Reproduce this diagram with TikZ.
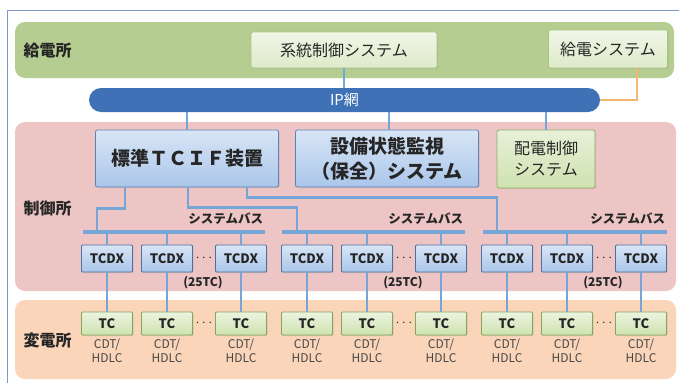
\documentclass[tikz,border=0pt]{standalone}
\usepackage{fontspec}
\setmainfont{Noto Sans CJK JP}
\usetikzlibrary{positioning,shadows}

\definecolor{bandgreen}{RGB}{182,205,146}
\definecolor{bandpink}{RGB}{238,197,197}
\definecolor{bandorange}{RGB}{250,213,186}
\definecolor{boxgreen}{RGB}{222,234,202}
\definecolor{edgegreen}{RGB}{168,198,128}
\definecolor{tcgreen}{RGB}{206,226,176}
\definecolor{tcedge}{RGB}{128,168,88}
\definecolor{ipblue}{RGB}{63,113,182}
\definecolor{boxblueA}{RGB}{216,229,246}
\definecolor{boxblueB}{RGB}{170,198,234}
\definecolor{edgeblue}{RGB}{92,132,188}
\definecolor{busblue}{RGB}{118,166,216}
\definecolor{feedorange}{RGB}{246,182,112}
\definecolor{framecol}{RGB}{128,152,200}
\definecolor{inkgray}{RGB}{38,38,38}

\newcommand{\fs}[2]{\fontsize{#1}{#2}\selectfont}

\begin{document}
\begin{tikzpicture}[x=1pt, y=-1pt,
    band/.style={rounded corners=10pt},
    place/.style={anchor=west, text=inkgray, font=\bfseries\fs{16}{19}},
    soft/.style={drop shadow={opacity=0.22, shadow xshift=1pt, shadow yshift=-1.2pt}},
    greenbox/.style={soft, draw=edgegreen, line width=0.8pt, rounded corners=2pt,
        top color=white!55!boxgreen, bottom color=boxgreen, text=inkgray,
        font=\fs{16}{21}},
    bluebox/.style={soft, draw=edgeblue, line width=0.8pt, rounded corners=2pt,
        top color=boxblueA, bottom color=boxblueB, text=inkgray, align=center,
        font=\bfseries\fs{19}{25}},
    dxbox/.style={soft, draw=edgeblue!85!black, line width=0.8pt, rounded corners=1pt,
        top color=boxblueA, bottom color=boxblueB, text=inkgray,
        minimum width=51, minimum height=27, font=\bfseries\fs{13}{15}},
    tcbox/.style={soft, draw=tcedge, line width=0.8pt, rounded corners=1pt,
        top color=white!60!tcgreen, bottom color=tcgreen, text=inkgray,
        minimum width=51, minimum height=23, font=\bfseries\fs{13}{15}},
    bus/.style={fill=busblue, minimum height=4.5, inner sep=0pt},
    buslabel/.style={anchor=south east, inner sep=0pt, text=inkgray, font=\bfseries\fs{12.5}{14}},
    hdlc/.style={align=center, inner sep=0pt, text=inkgray!85, font=\fs{12}{14.5}},
    dots/.style={text=inkgray, font=\fs{15}{15}},
    link/.style={busblue, line width=2.4pt},
    feedline/.style={feedorange, line width=2.8pt},
  ]
  \useasboundingbox (0,0) rectangle (679,383);

  % bands
  \fill[bandgreen, band] (15,22) rectangle (674,78);
  \fill[bandpink, band] (15,122) rectangle (676,291);
  \fill[bandorange, band] (15,300) rectangle (676,379);
  \draw[framecol, line width=1pt] (7,383) -- (7,10.5) -- (679,10.5);

  \node[place] (kyuden) at (20,50) {給電所};
  \node[place] (seigyo) at (20,208) {制御所};
  \node[place] (henden) at (20,340) {変電所};

  % top systems and IP network
  \node[greenbox, minimum width=186, minimum height=36] (sys) at (344,50) {系統制御システム};
  \node[greenbox, minimum width=119, minimum height=38] (feed) at (608,49) {給電システム};
  \node[fill=ipblue, rounded corners=12pt, minimum width=511, minimum height=24,
        text=white, font=\fs{15}{17}] (ip) at (344.5,100) {IP網};

  \node[bluebox, minimum width=183, minimum height=57] (tcif) at (187,158.5) {標準ＴＣＩＦ装置};
  \node[bluebox, minimum width=183, minimum height=57] (mon) at (387,158.5) {設備状態監視\\（保全）システム};
  \node[greenbox, draw=tcedge!90, top color=white!50!tcgreen, bottom color=tcgreen,
        align=center, minimum width=98, minimum height=58] (dist) at (546,159) {配電制御\\システム};

  \draw[link] (sys) -- (sys |- ip.north);
  \draw[feedline] (ip.east) -| ([xshift=29pt]feed.south);
  \draw[link] (tcif |- ip.south) -- (tcif);
  \draw[link] ([xshift=2pt]mon.north |- ip.south) -- ([xshift=2pt]mon.north);
  \draw[link] (dist |- ip.south) -- (dist);

  % system buses
  \node[bus, minimum width=182] (bus1) at (174,232) {};
  \node[bus, minimum width=183] (bus2) at (373.5,232) {};
  \node[bus, minimum width=184] (bus3) at (575,232) {};
  \foreach \b in {1,2,3}
    \node[buslabel] (buslbl\b) at ([xshift=-2pt,yshift=5pt]bus\b.north east) {システムバス};

  \draw[link] ([xshift=-62pt]tcif.south) -- ++(0,21) -| ([xshift=-77pt]bus1.north);
  \draw[link] ([xshift=1pt]tcif.south) -- ++(0,20) -| ([xshift=-76.5pt]bus2.north);
  \draw[link] ([xshift=60pt]tcif.south) -- ++(0,10) -| ([xshift=-78pt]bus3.north);

  % TCDX and TC groups
  \foreach \g in {1,2,3} {
    \pgfmathsetmacro{\off}{200*(\g-1)}
    \node[dxbox] (dx\g a) at (107+\off,258.5) {TCDX};
    \node[dxbox] (dx\g b) at (167+\off,258.5) {TCDX};
    \node[dxbox] (dx\g c) at (241+\off,258.5) {TCDX};
    \node[dots] (dxdots\g) at (204+\off,258) {$\cdots$};
    \node[text=inkgray, font=\bfseries\fs{12}{14}] (count\g) at (203+\off,283) {(25TC)};
    \node[tcbox] (tc\g a) at (107+\off,323.5) {TC};
    \node[tcbox] (tc\g b) at (167+\off,323.5) {TC};
    \node[tcbox] (tc\g c) at (241+\off,323.5) {TC};
    \node[dots] (tcdots\g) at (204+\off,323) {$\cdots$};
    \foreach \k in {a,b,c} {
      \node[hdlc, below=3pt of tc\g\k] (line\g\k) {CDT/\\HDLC};
      \draw[link] (dx\g\k.north |- bus\g.south) -- (dx\g\k.north);
      \draw[link] (dx\g\k) -- (tc\g\k);
    }
  }
\end{tikzpicture}
\end{document}
